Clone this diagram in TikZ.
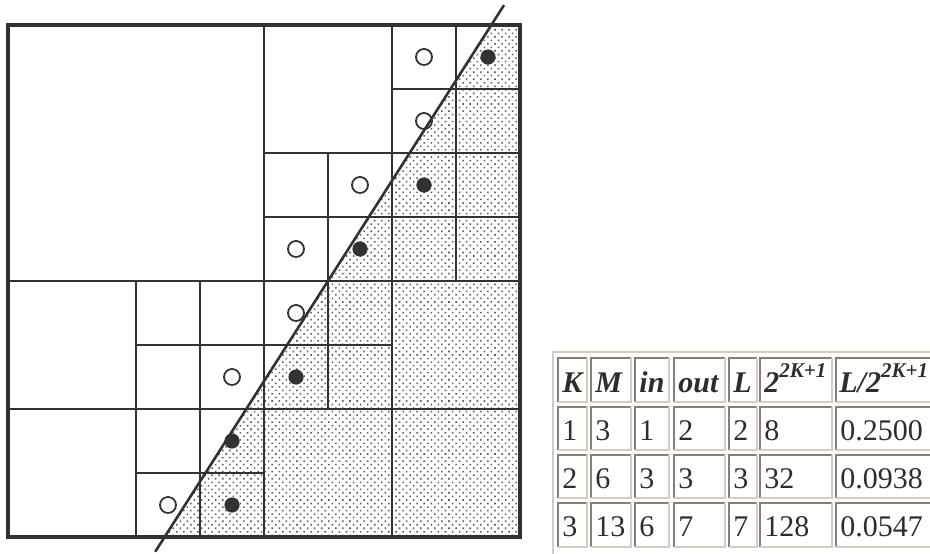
\documentclass[tikz,border=0pt]{standalone}
\usepackage{fontspec}
\setmainfont{Liberation Serif}
\usetikzlibrary{patterns.meta}
\definecolor{gridink}{RGB}{50,50,50}
\definecolor{dotink}{RGB}{95,95,95}
\definecolor{bevdark}{RGB}{135,126,122}
\definecolor{bevlight}{RGB}{212,204,196}
\definecolor{cellink}{RGB}{45,45,45}
\newcommand{\hdrexp}[1]{\raisebox{7.5pt}{\fontsize{10.5}{13}\selectfont #1}}

\begin{document}
\begin{tikzpicture}[x=0.5pt,y=-0.5pt,
    leaf/.style={draw=gridink,line width=0.9pt},
    inside/.style={pattern={Dots[distance=2.5pt,angle=45,radius=0.55pt]},pattern color=dotink},
    outpt/.style={circle,draw=gridink,fill=white,line width=0.9pt,minimum size=8pt,inner sep=0pt},
    inpt/.style={circle,fill=gridink,minimum size=7.6pt,inner sep=0pt},
    cellbox/.style={rectangle,inner sep=0pt,outer sep=0pt},
    darkedge/.style={draw=bevdark,line width=0.7pt},
    lightedge/.style={draw=bevlight,line width=0.7pt},
    hdr/.style={anchor=base west,inner sep=0pt,text=cellink,font=\fontsize{15}{18}\selectfont\bfseries\itshape},
    val/.style={anchor=base west,inner sep=0pt,text=cellink,font=\fontsize{15}{18}\selectfont}]
  \useasboundingbox (0,0) rectangle (930,553);
  \clip (0,0) rectangle (930,553);

  % quadtree over the unit square, one grid unit = 64px
  \begin{scope}[shift={(8,537)},x=32pt,y=32pt]
    \coordinate (lo) at (2.30,-0.23);
    \coordinate (hi) at (7.75,8.31);
    \fill[inside] (2.45,0) -- (7.55,8) -- (8,8) -- (8,0) -- cycle;
    \foreach \x/\y/\s in {0/4/4, 4/6/2, 6/7/1, 7/7/1, 6/6/1, 7/6/1,
        4/5/1, 5/5/1, 4/4/1, 5/4/1, 6/5/1, 7/5/1, 6/4/1, 7/4/1,
        0/2/2, 0/0/2, 2/3/1, 3/3/1, 2/2/1, 3/2/1, 2/1/1, 3/1/1, 2/0/1, 3/0/1,
        4/3/1, 5/3/1, 4/2/1, 5/2/1, 6/2/2, 4/0/2, 6/0/2}
      \draw[leaf] (\x,\y) rectangle ++(\s,\s);
    % cells outside / on the boundary
    \foreach \x/\y [count=\i] in {6.5/7.5, 6.5/6.5, 5.5/5.5, 4.5/4.5, 4.5/3.5, 3.5/2.5, 2.5/0.5}
      \node[outpt] (o\i) at (\x,\y) {};
    \foreach \x/\y [count=\i] in {7.5/7.5, 6.5/5.5, 5.5/4.5, 4.5/2.5, 3.5/1.5, 3.5/0.5}
      \node[inpt] (f\i) at (\x,\y) {};
    \draw[gridink,line width=1.3pt] (lo) -- (hi);
    \draw[gridink,line width=1.8pt] (0,0) rectangle (8,8);
  \end{scope}

  % table
  \draw[lightedge] (553,560) -- (553,352) -- (940,352);
  \foreach \yt/\yb [count=\r] in {358/402, 407/450, 455/498, 503/547}
    \foreach \xl/\xr [count=\c] in {558/587, 591/631, 635/669, 674/725, 729/757, 760/832, 836/940}
    {
      \node[cellbox,minimum width={(\xr-\xl)*0.5pt},minimum height={(\yb-\yt)*0.5pt}]
        (c\r\c) at ({(\xl+\xr)/2},{(\yt+\yb)/2}) {};
      \draw[darkedge] (c\r\c.south west) |- (c\r\c.north east);
      \draw[lightedge] (c\r\c.north east) |- (c\r\c.south west);
    }
  \foreach \xl/\txt [count=\c] in {562/K, 595/M, 639/in, 678/out, 733/L,
      764/{2\hdrexp{2K+1}}, 839/{L/2\hdrexp{2K+1}}}
    \node[hdr] (h\c) at (\xl,392) {\txt};
  \foreach \yb/\vk/\vm/\vin/\vout/\vl/\vp/\vq [count=\r] in
      {440/1/3/1/2/2/8/0.2500, 488/2/6/3/3/3/32/0.0938, 536/3/13/6/7/7/128/0.0547}
  {
    \node[val] (k\r) at (562,\yb) {\vk};
    \node[val] (m\r) at (595,\yb) {\vm};
    \node[val] (i\r) at (639,\yb) {\vin};
    \node[val] (u\r) at (678,\yb) {\vout};
    \node[val] (l\r) at (733,\yb) {\vl};
    \node[val] (p\r) at (764,\yb) {\vp};
    \node[val] (q\r) at (840,\yb) {\vq};
  }
\end{tikzpicture}
\end{document}
